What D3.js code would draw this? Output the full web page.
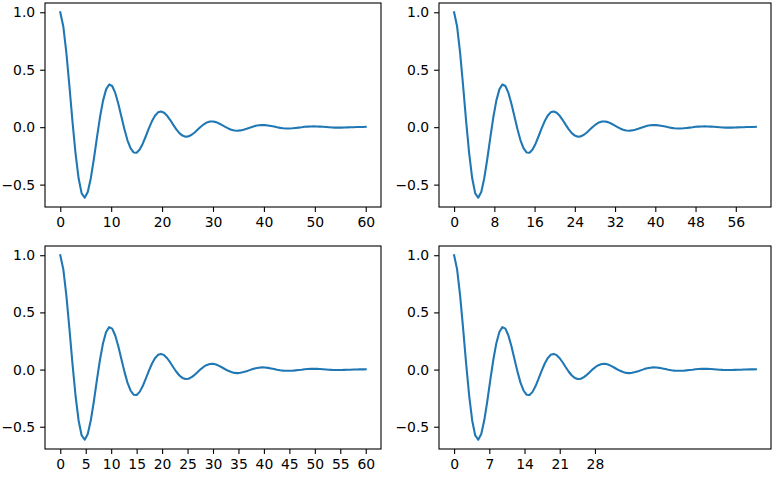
<!DOCTYPE html>
<html>
<head>
<meta charset="utf-8">
<script src="https://cdn.jsdelivr.net/npm/d3@7"></script>
<style>
  body { margin: 0; background: #fff; }
  svg { display: block; }
  .tick text { font-family: "DejaVu Sans", sans-serif; font-size: 13.9px; fill: #000; }
</style>
</head>
<body>
<div id="chart"></div>
<script>
// sample positions (step 0.6 from 0 to 60)
const xs = [0,0.6,1.2,1.8,2.4,3,3.6,4.2,4.8,5.4,6,6.6,7.2,7.8,8.4,9,9.6,10.2,10.8,11.4,
  12,12.6,13.2,13.8,14.4,15,15.6,16.2,16.8,17.4,18,18.6,19.2,19.8,20.4,21,21.6,22.2,22.8,23.4,
  24,24.6,25.2,25.8,26.4,27,27.6,28.2,28.8,29.4,30,30.6,31.2,31.8,32.4,33,33.6,34.2,34.8,35.4,
  36,36.6,37.2,37.8,38.4,39,39.6,40.2,40.8,41.4,42,42.6,43.2,43.8,44.4,45,45.6,46.2,46.8,47.4,
  48,48.6,49.2,49.8,50.4,51,51.6,52.2,52.8,53.4,54,54.6,55.2,55.8,56.4,57,57.6,58.2,58.8,59.4,60]

const ys = [1.000,0.876,0.647,0.356,0.049,-0.229,-0.445,-0.576,-0.614,-0.564,
  -0.444,-0.277,-0.091,0.086,0.231,0.329,0.371,0.358,0.298,0.204,
  0.093,-0.018,-0.114,-0.183,-0.220,-0.223,-0.195,-0.144,-0.079,-0.011,
  0.051,0.099,0.129,0.137,0.126,0.099,0.062,0.020,-0.019,-0.052,
  -0.073,-0.083,-0.080,-0.066,-0.046,-0.021,0.004,0.025,0.041,0.049,
  0.050,0.044,0.032,0.018,0.003,-0.011,-0.022,-0.029,-0.031,-0.028,
  -0.022,-0.014,-0.005,0.004,0.012,0.016,0.019,0.018,0.015,0.010,
  0.005,-0.001,-0.006,-0.009,-0.011,-0.011,-0.010,-0.007,-0.004,-0.001,
  0.003,0.005,0.006,0.007,0.006,0.005,0.003,0.001,-0.001,-0.003,
  -0.004,-0.004,-0.004,-0.003,-0.002,-0.001,0.000,0.001,0.002,0.002,0.003]

const yTicks = [-0.5, 0, 0.5, 1.0]

// tick positions for each panel (top-left, top-right, bottom-left, bottom-right)
const xTicksTL = [0,10,20,30,40,50,60]
const xTicksTR = [0,8,16,24,32,40,48,56]
const xTicksBL = [0,5,10,15,20,25,30,35,40,45,50,55,60]
const xTicksBR = [0,7,14,21,28]

const w = 781;
const h = 478;

const panels = [
  {ticks: xTicksTL, left: 45, top: 3, width: 336, height: 204},
  {ticks: xTicksTR, left: 439, top: 3, width: 332, height: 204},
  {ticks: xTicksBL, left: 45, top: 246, width: 336, height: 203},
  {ticks: xTicksBR, left: 439, top: 246, width: 332, height: 203}
]

const svg = d3.select("#chart")
              .append("svg")
              .attr("width", w)
              .attr("height", h)

const data = xs.map((x, i) => ({x: x, y: ys[i]}))

const xMin = d3.min(xs), xMax = d3.max(xs)
const yMin = d3.min(ys), yMax = d3.max(ys)
const xPad = (xMax - xMin) * 0.05
const yPad = (yMax - yMin) * 0.05

const fmtY = (d) => d3.format(".1f")(d).replace("-", "\u2212")

panels.forEach((p) => {
  const g = svg.append("g")
               .attr("transform", "translate(" + p.left + "," + p.top + ")")

  const xScale = d3.scaleLinear()
                   .domain([xMin - xPad, xMax + xPad])
                   .range([0, p.width])
  const yScale = d3.scaleLinear()
                   .domain([yMin - yPad, yMax + yPad])
                   .range([p.height, 0])

  const line = d3.line()
                 .x((d) => xScale(d.x))
                 .y((d) => yScale(d.y))

  g.append("path")
   .datum(data)
   .attr("d", line)
   .attr("fill", "none")
   .attr("stroke", "#1f77b4")
   .attr("stroke-width", 2.08)
   .attr("stroke-linejoin", "round")
   .attr("stroke-linecap", "square")

  const xAxis = d3.axisBottom(xScale)
                  .tickValues(p.ticks)
                  .tickFormat(d3.format("d"))
                  .tickSize(4.9)
                  .tickPadding(4.9)
  g.append("g")
   .attr("transform", "translate(0," + p.height + ")")
   .call(xAxis)
   .call((a) => a.select(".domain").remove())

  const yAxis = d3.axisLeft(yScale)
                  .tickValues(yTicks)
                  .tickFormat(fmtY)
                  .tickSize(4.9)
                  .tickPadding(4.9)
  g.append("g")
   .call(yAxis)
   .call((a) => a.select(".domain").remove())

  g.selectAll(".tick line").attr("stroke", "#000").attr("stroke-width", 1.1)

  g.append("rect")
   .attr("width", p.width)
   .attr("height", p.height)
   .attr("fill", "none")
   .attr("stroke", "#000")
   .attr("stroke-width", 1.1)
})
</script>
</body>
</html>
